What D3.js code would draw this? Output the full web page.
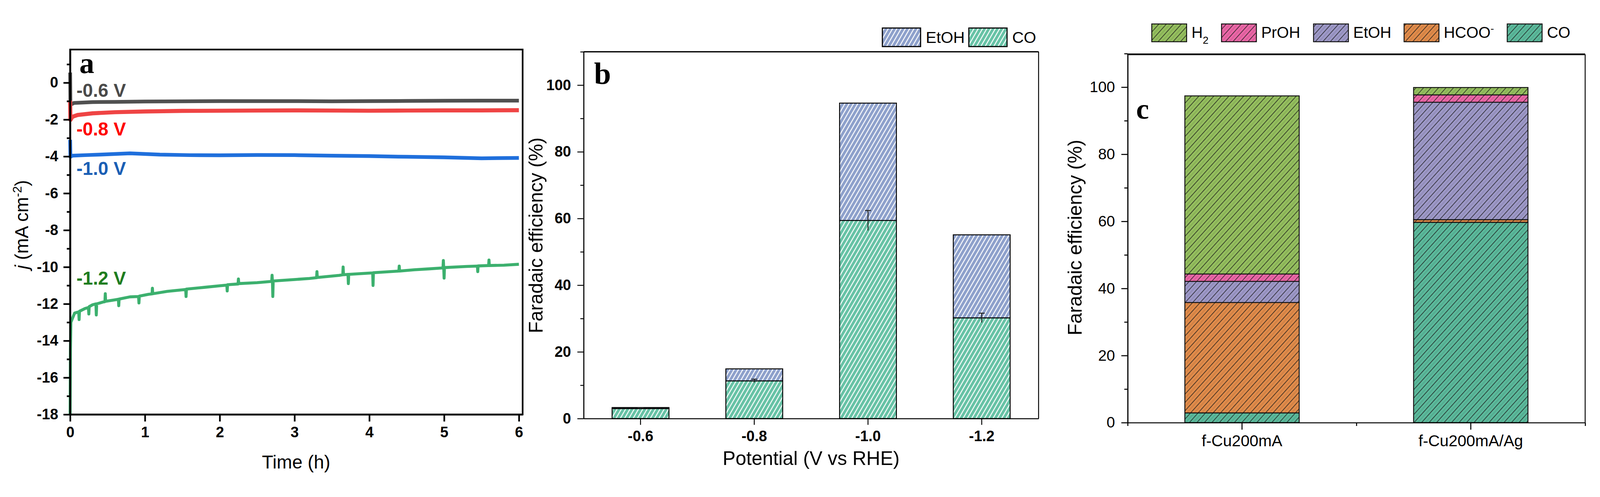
<!DOCTYPE html>
<html>
<head>
<meta charset="utf-8">
<script src="https://cdn.jsdelivr.net/npm/d3@7"></script>
<style>
  html, body { margin: 0; padding: 0; background: #fff; overflow: hidden; }
  svg { display: block; width: 100vw; height: 100vh; }
  text { font-family: "Liberation Sans", Arial, sans-serif; }
</style>
</head>
<body>
<svg id="fig" viewBox="0 0 4312 1273" preserveAspectRatio="xMidYMid meet"></svg>
<script>
// ---- panel a: chronoamperometry, [time (h), j (mA cm-2)]
const curveLabels = ["-0.6 V", "-0.8 V", "-1.0 V", "-1.2 V"];
const curve06 = [[0,0.55],[0.004,-1.2],[0.05,-1.1],[0.3,-1.05],[0.6,-1.04],[1,-1.02],[1.5,-1.01],[2,-1.0],[2.5,-1.0],[3,-1.0],[3.5,-1.01],[4,-1.0],[4.5,-0.99],[5,-0.98],[5.5,-0.97],[6,-0.97]];
const curve08 = [[0,-0.97],[0.004,-2.02],[0.03,-1.85],[0.1,-1.75],[0.3,-1.66],[0.6,-1.6],[1,-1.56],[1.5,-1.53],[2,-1.52],[2.5,-1.51],[3,-1.5],[3.5,-1.51],[4,-1.52],[4.5,-1.51],[5,-1.5],[5.5,-1.5],[6,-1.49]];
const curve10 = [[0,-3.1],[0.004,-4.02],[0.03,-3.96],[0.2,-3.93],[0.4,-3.9],[0.8,-3.83],[1.2,-3.9],[1.6,-3.93],[2,-3.94],[2.5,-3.92],[3,-3.93],[3.5,-3.96],[4,-3.98],[4.5,-4.02],[5,-4.05],[5.5,-4.1],[6,-4.08]];
const curve12 = [[0,-18],[0.004,-14.5],[0.01,-13.0],[0.03,-12.8],[0.06,-12.5],[0.1,-12.45],[0.115,-12.45],[0.12,-12.85],[0.125,-12.4],[0.2,-12.25],[0.245,-12.2],[0.25,-12.55],[0.255,-12.15],[0.3,-12.05],[0.345,-12.0],[0.35,-12.6],[0.355,-12.0],[0.44,-11.9],[0.465,-11.88],[0.47,-11.45],[0.475,-11.86],[0.6,-11.78],[0.645,-11.75],[0.65,-12.1],[0.655,-11.74],[0.8,-11.62],[0.915,-11.6],[0.92,-11.95],[0.925,-11.58],[1.05,-11.48],[1.095,-11.46],[1.1,-11.15],[1.105,-11.45],[1.3,-11.32],[1.545,-11.22],[1.55,-11.6],[1.555,-11.2],[1.8,-11.1],[2.0,-11.02],[2.095,-10.98],[2.1,-11.3],[2.105,-10.96],[2.245,-10.92],[2.25,-10.65],[2.255,-10.9],[2.5,-10.85],[2.695,-10.78],[2.7,-10.45],[2.705,-10.78],[2.71,-11.6],[2.715,-10.76],[3.0,-10.68],[3.2,-10.62],[3.295,-10.58],[3.3,-10.25],[3.305,-10.57],[3.6,-10.45],[3.645,-10.42],[3.65,-10.0],[3.655,-10.42],[3.715,-10.4],[3.72,-10.9],[3.725,-10.4],[4.0,-10.33],[4.045,-10.32],[4.05,-11.0],[4.055,-10.31],[4.395,-10.22],[4.4,-9.95],[4.405,-10.22],[4.6,-10.15],[4.8,-10.1],[4.985,-10.05],[4.99,-9.65],[4.995,-10.05],[5.0,-10.6],[5.005,-10.03],[5.3,-9.97],[5.445,-9.95],[5.45,-10.25],[5.455,-9.94],[5.595,-9.92],[5.6,-9.62],[5.605,-9.92],[5.8,-9.9],[6.0,-9.85]];
const timeTicks = [0, 1, 2, 3, 4, 5, 6];
const jTicks = [-18, -16, -14, -12, -10, -8, -6, -4, -2, 0];
const jMinor = [-17, -15, -13, -11, -9, -7, -5, -3, -1, 1];

// ---- panel b: FE vs potential
const potentials = ["-0.6", "-0.8", "-1.0", "-1.2"];
const feCO_b = [3.0, 11.3, 59.4, 30.2];
const feEtOH_b = [0.3, 3.6, 35.2, 24.9];
const errCO_b = [0.2, 0.5, 3.0, 1.4];

// ---- panel c: FE per catalyst
const catalysts = ["f-Cu200mA", "f-Cu200mA/Ag"];
const feCO_c = [2.9, 59.7];
const feHCOO_c = [32.9, 0.8];
const feEtOH_c = [6.3, 35.0];
const fePrOH_c = [2.2, 2.2];
const feH2_c = [53.1, 2.2];
const feTicks = [0, 20, 40, 60, 80, 100];
const feMinor = [10, 30, 50, 70, 90, 110];

const svg = d3.select("#fig");
const defs = svg.append("defs");

function stripes(id, color, kind) {
  const w = kind === "white" ? 10 : 15;
  const p = defs.append("pattern")
    .attr("id", id)
    .attr("patternUnits", "userSpaceOnUse")
    .attr("width", w).attr("height", w)
    .attr("patternTransform", kind === "white" ? "rotate(30)" : "rotate(42)");
  p.append("rect").attr("width", w).attr("height", w).attr("fill", color);
  if (kind === "white") {
    p.append("line").attr("x1", 5).attr("x2", 5).attr("y1", 0).attr("y2", w)
      .attr("stroke", "#fff").attr("stroke-width", 2.6);
  } else {
    p.append("line").attr("x1", 2).attr("x2", 2).attr("y1", 0).attr("y2", w)
      .attr("stroke", "#1a1a1a").attr("stroke-width", 1.5);
    p.append("line").attr("x1", 9.5).attr("x2", 9.5).attr("y1", 0).attr("y2", w)
      .attr("stroke", "#000").attr("stroke-opacity", 0.18).attr("stroke-width", 1.2);
  }
}

stripes("bEtOH", "#8da0cb", "white");
stripes("bCO", "#66c2a5", "white");
const colorsC = {H2: "#94be5e", PrOH: "#ea66a6", EtOH: "#9d98c7", HCOO: "#e08b4a", CO: "#5bb99b"};
Object.keys(colorsC).forEach(k => stripes("c" + k, colorsC[k], "black"));

function styleAxis(g, sw, fontSize, weight) {
  g.select(".domain").attr("stroke", "#000").attr("stroke-width", sw);
  g.selectAll(".tick line").attr("stroke", "#000").attr("stroke-width", sw);
  g.selectAll(".tick text").attr("fill", "#000")
    .style("font-size", fontSize + "px").style("font-weight", weight)
    .style("font-family", '"Liberation Sans", Arial, sans-serif');
}

// ================= panel a =================
{
  const x = d3.scaleLinear().domain([0, 6.05]).range([189, 1408.5]);
  const y = d3.scaleLinear().domain([-18, 1.8]).range([1084, 100]);
  const g = svg.append("g");

  const lines = [
    {data: curve06, stroke: "#505050", w: 10, label: "#4a4a4a"},
    {data: curve08, stroke: "#ef4444", w: 11, label: "#ff0000"},
    {data: curve10, stroke: "#1f6fdc", w: 10, label: "#1b5fb5"},
    {data: curve12, stroke: "#3cb06e", w: 8, label: "#1f7d1f"}
  ];
  const line = d3.line().x(d => x(d[0])).y(d => y(d[1]));
  g.selectAll("path.curve").data(lines).enter().append("path")
    .attr("class", "curve")
    .attr("d", d => line(d.data))
    .attr("fill", "none")
    .attr("stroke", d => d.stroke)
    .attr("stroke-width", d => d.w)
    .attr("stroke-linejoin", "round");

  // axes
  const ya = g.append("g").attr("transform", "translate(189,0)")
    .call(d3.axisLeft(y).tickValues(jTicks).tickSize(18).tickSizeOuter(0).tickPadding(14).tickFormat(d => String(d)));
  styleAxis(ya, 4.5, 40, "bold");
  const ym = g.append("g").attr("transform", "translate(189,0)")
    .call(d3.axisLeft(y).tickValues(jMinor).tickSize(9).tickSizeOuter(0).tickFormat(""));
  styleAxis(ym, 4.5, 40, "bold");
  const xa = g.append("g").attr("transform", "translate(0,1084)")
    .call(d3.axisBottom(x).tickValues(timeTicks).tickSize(19).tickSizeOuter(0).tickPadding(14).tickFormat(d => String(d)));
  styleAxis(xa, 4.5, 40, "bold");
  g.append("rect").attr("x", 189).attr("y", 100).attr("width", 1408.5 - 189).attr("height", 984)
    .attr("fill", "none").attr("stroke", "#000").attr("stroke-width", 4.5);

  // series labels
  const labY = [228, 332, 438, 734];
  g.selectAll("text.lab").data(lines).enter().append("text")
    .attr("class", "lab")
    .attr("x", 206).attr("y", (d, i) => labY[i])
    .attr("fill", d => d.label)
    .style("font-size", "50px").style("font-weight", "bold")
    .text((d, i) => curveLabels[i]);

  g.append("text").attr("x", 214).attr("y", 163)
    .style("font-family", '"Liberation Serif", "Times New Roman", serif')
    .style("font-size", "80px").style("font-weight", "bold").text("a");

  g.append("text").attr("x", 798).attr("y", 1230).attr("text-anchor", "middle")
    .style("font-size", "50px").text("Time (h)");
  const yl = g.append("text").attr("transform", "translate(76,572) rotate(-90)")
    .attr("text-anchor", "middle").style("font-size", "50px");
  yl.append("tspan").style("font-style", "italic").text("j");
  yl.append("tspan").text(" (mA cm");
  yl.append("tspan").attr("baseline-shift", "super").style("font-size", "33px").text("-2");
  yl.append("tspan").text(")");
}

// ================= panel b =================
{
  const x = d3.scaleBand().domain(potentials).range([1573, 2799]).paddingInner(0.5).paddingOuter(0.25);
  const y = d3.scaleLinear().domain([0, 110]).range([1095, 106]);
  const g = svg.append("g");

  const rows = potentials.map((p, i) => ({pot: p, CO: feCO_b[i], EtOH: feEtOH_b[i], err: errCO_b[i]}));
  const stack = d3.stack().keys(["CO", "EtOH"])(rows);
  const fills = {CO: "url(#bCO)", EtOH: "url(#bEtOH)"};

  g.selectAll("g.layer").data(stack).enter().append("g")
    .attr("class", "layer")
    .attr("fill", d => fills[d.key])
    .selectAll("rect").data(d => d).enter().append("rect")
    .attr("x", d => x(d.data.pot))
    .attr("width", x.bandwidth())
    .attr("y", d => y(d[1]))
    .attr("height", d => y(d[0]) - y(d[1]))
    .attr("stroke", "#000").attr("stroke-width", 2.5);

  // error bars on CO (upper cap)
  const eb = g.selectAll("g.err").data(rows).enter().append("g").attr("class", "err");
  eb.append("line")
    .attr("x1", d => x(d.pot) + x.bandwidth() / 2).attr("x2", d => x(d.pot) + x.bandwidth() / 2)
    .attr("y1", d => y(d.CO - d.err)).attr("y2", d => y(d.CO + d.err))
    .attr("stroke", "#222").attr("stroke-width", 2.5);
  eb.append("line")
    .attr("x1", d => x(d.pot) + x.bandwidth() / 2 - 8).attr("x2", d => x(d.pot) + x.bandwidth() / 2 + 8)
    .attr("y1", d => y(d.CO + d.err)).attr("y2", d => y(d.CO + d.err))
    .attr("stroke", "#222").attr("stroke-width", 2.5);

  const ya = g.append("g").attr("transform", "translate(1573,0)")
    .call(d3.axisLeft(y).tickValues(feTicks).tickSize(17).tickSizeOuter(0).tickPadding(17));
  styleAxis(ya, 2.5, 40, "bold");
  const ym = g.append("g").attr("transform", "translate(1573,0)")
    .call(d3.axisLeft(y).tickValues(feMinor).tickSize(9).tickSizeOuter(0).tickFormat(""));
  styleAxis(ym, 2.5, 40, "bold");
  const xa = g.append("g").attr("transform", "translate(0,1095)")
    .call(d3.axisBottom(x).tickSize(17).tickSizeOuter(0).tickPadding(16));
  styleAxis(xa, 2.5, 40, "bold");
  g.append("line").attr("x1", 1573).attr("x2", 2799).attr("y1", 106).attr("y2", 106)
    .attr("stroke", "#000").attr("stroke-width", 3.5);
  g.append("line").attr("x1", 2799).attr("x2", 2799).attr("y1", 106).attr("y2", 1095)
    .attr("stroke", "#000").attr("stroke-width", 2.5);

  g.append("text").attr("x", 1601).attr("y", 193)
    .style("font-family", '"Liberation Serif", "Times New Roman", serif')
    .style("font-size", "82px").style("font-weight", "bold").text("b");

  g.append("text").attr("x", 2186).attr("y", 1220).attr("text-anchor", "middle")
    .style("font-size", "52px").text("Potential (V vs RHE)");
  g.append("text").attr("transform", "translate(1462,601) rotate(-90)")
    .attr("text-anchor", "middle").style("font-size", "52px").text("Faradaic efficiency (%)");

  // legend
  const leg = [{key: "EtOH", x: 2378}, {key: "CO", x: 2611}];
  const lg = g.selectAll("g.leg").data(leg).enter().append("g").attr("class", "leg");
  lg.append("rect").attr("x", d => d.x).attr("y", 42).attr("width", 103).attr("height", 50)
    .attr("fill", d => fills[d.key]).attr("stroke", "#000").attr("stroke-width", 3);
  lg.append("text").attr("x", d => d.x + 117).attr("y", 82)
    .style("font-size", "43px").text(d => d.key);
}

// ================= panel c =================
{
  const x = d3.scaleBand().domain(catalysts).range([3039, 4272]).paddingInner(0.5).paddingOuter(0.25);
  const y = d3.scaleLinear().domain([0, 110]).range([1106, 111]);
  const g = svg.append("g");

  const keys = ["CO", "HCOO", "EtOH", "PrOH", "H2"];
  const rows = catalysts.map((c, i) => ({cat: c, CO: feCO_c[i], HCOO: feHCOO_c[i], EtOH: feEtOH_c[i], PrOH: fePrOH_c[i], H2: feH2_c[i]}));
  const stack = d3.stack().keys(keys)(rows);

  g.selectAll("g.layer").data(stack).enter().append("g")
    .attr("class", "layer")
    .attr("fill", d => "url(#c" + d.key + ")")
    .selectAll("rect").data(d => d).enter().append("rect")
    .attr("x", d => x(d.data.cat))
    .attr("width", x.bandwidth())
    .attr("y", d => y(d[1]))
    .attr("height", d => y(d[0]) - y(d[1]))
    .attr("stroke", "#111").attr("stroke-width", 2.5);

  const ya = g.append("g").attr("transform", "translate(3039,0)")
    .call(d3.axisLeft(y).tickValues(feTicks).tickSize(17).tickSizeOuter(0).tickPadding(17));
  styleAxis(ya, 2.8, 41, "normal");
  const ym = g.append("g").attr("transform", "translate(3039,0)")
    .call(d3.axisLeft(y).tickValues(feMinor).tickSize(9).tickSizeOuter(0).tickFormat(""));
  styleAxis(ym, 2.8, 41, "normal");
  const xa = g.append("g").attr("transform", "translate(0,1106)")
    .call(d3.axisBottom(x).tickSize(19).tickSizeOuter(0).tickPadding(14));
  styleAxis(xa, 2.8, 43, "normal");
  // minor x ticks between / outside the bars
  const xMinor = d3.scaleLinear().domain([0.5, 2.5]).range([3039, 4272]);
  const xm = g.append("g").attr("transform", "translate(0,1106)")
    .call(d3.axisBottom(xMinor).tickValues([0.5, 1.5, 2.5]).tickSize(9).tickSizeOuter(0).tickFormat(""));
  styleAxis(xm, 2.8, 40, "normal");
  xm.select(".domain").remove();
  g.append("line").attr("x1", 3039).attr("x2", 4272).attr("y1", 113).attr("y2", 113)
    .attr("stroke", "#000").attr("stroke-width", 4.5);
  g.append("line").attr("x1", 4272).attr("x2", 4272).attr("y1", 113).attr("y2", 1106)
    .attr("stroke", "#000").attr("stroke-width", 2.5);

  g.append("text").attr("x", 3062).attr("y", 286)
    .style("font-family", '"Liberation Serif", "Times New Roman", serif')
    .style("font-size", "78px").style("font-weight", "bold").text("c");

  g.append("text").attr("transform", "translate(2915,607) rotate(-90)")
    .attr("text-anchor", "middle").style("font-size", "52px").text("Faradaic efficiency (%)");

  // legend
  const leg = [
    {key: "H2", x: 3104, main: "H", sub: "2"},
    {key: "PrOH", x: 3292, main: "PrOH"},
    {key: "EtOH", x: 3540, main: "EtOH"},
    {key: "HCOO", x: 3784, main: "HCOO", sup: "-"},
    {key: "CO", x: 4062, main: "CO"}
  ];
  const lg = g.selectAll("g.leg").data(leg).enter().append("g").attr("class", "leg");
  lg.append("rect").attr("x", d => d.x).attr("y", 31).attr("width", 94).attr("height", 48)
    .attr("fill", d => "url(#c" + d.key + ")").attr("stroke", "#111").attr("stroke-width", 2.5);
  const lt = lg.append("text").attr("x", d => d.x + 107).attr("y", 69).style("font-size", "42px");
  lt.append("tspan").text(d => d.main);
  lt.filter(d => d.sub).append("tspan").attr("baseline-shift", "sub").style("font-size", "28px").text(d => d.sub);
  lt.filter(d => d.sup).append("tspan").attr("baseline-shift", "super").style("font-size", "28px").text(d => d.sup);
}
</script>
</body>
</html>
